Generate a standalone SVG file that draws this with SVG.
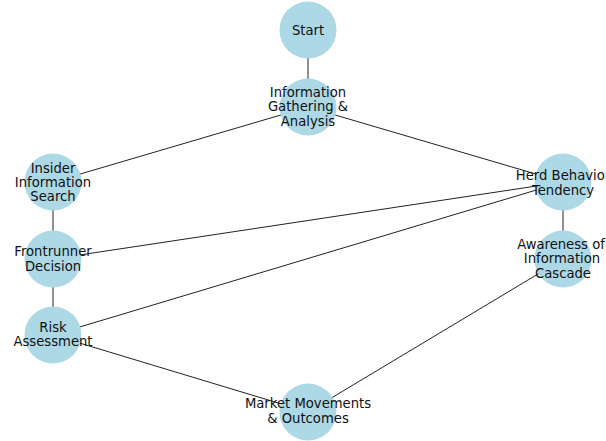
<svg xmlns="http://www.w3.org/2000/svg" width="606" height="441" viewBox="0 0 606 441">
<style>
.e{stroke:#222;stroke-width:1;fill:none}
.n{fill:#ADD8E6}
text{font-family:"DejaVu Sans",sans-serif;font-size:13.2px;fill:#111;text-anchor:middle}
</style>
<rect width="606" height="441" fill="#fff"/>
<g id="edges">
<line class="e" x1="308" y1="30" x2="308" y2="107"/>
<line class="e" x1="308" y1="107" x2="53" y2="182"/>
<line class="e" x1="308" y1="107" x2="563" y2="182"/>
<line class="e" x1="53" y1="182" x2="53" y2="259"/>
<line class="e" x1="53" y1="259" x2="53" y2="335"/>
<line class="e" x1="53" y1="259" x2="563" y2="182"/>
<line class="e" x1="53" y1="335" x2="563" y2="182"/>
<line class="e" x1="53" y1="335" x2="308" y2="412"/>
<line class="e" x1="563" y1="182" x2="563" y2="259"/>
<line class="e" x1="563" y1="259" x2="308" y2="412"/>
</g>
<g id="start"><circle class="n" cx="308" cy="30" r="28.5"/><text x="308" y="34.5">Start</text></g>
<g id="info"><circle class="n" cx="308" cy="107" r="28.5"/><text x="308" y="96.5">Information</text><text x="308" y="111">Gathering &amp;</text><text x="308" y="125.5">Analysis</text></g>
<g id="insider"><circle class="n" cx="53" cy="182" r="28.5"/><text x="53" y="173">Insider</text><text x="53" y="187">Information</text><text x="53" y="201">Search</text></g>
<g id="frontrunner"><circle class="n" cx="53" cy="259" r="28.5"/><text x="53" y="256">Frontrunner</text><text x="53" y="270.5">Decision</text></g>
<g id="risk"><circle class="n" cx="53" cy="335" r="28.5"/><text x="53" y="332">Risk</text><text x="53" y="346">Assessment</text></g>
<g id="herd"><circle class="n" cx="563" cy="182" r="28.5"/><text x="563" y="179.5">Herd Behavior</text><text x="563" y="194.5">Tendency</text></g>
<g id="awareness"><circle class="n" cx="563" cy="259" r="28.5"/><text x="561" y="249">Awareness of</text><text x="562" y="263">Information</text><text x="563" y="277.5">Cascade</text></g>
<g id="market"><circle class="n" cx="308" cy="412" r="28.5"/><text x="308" y="407.5">Market Movements</text><text x="308" y="422.5">&amp; Outcomes</text></g>
</svg>
